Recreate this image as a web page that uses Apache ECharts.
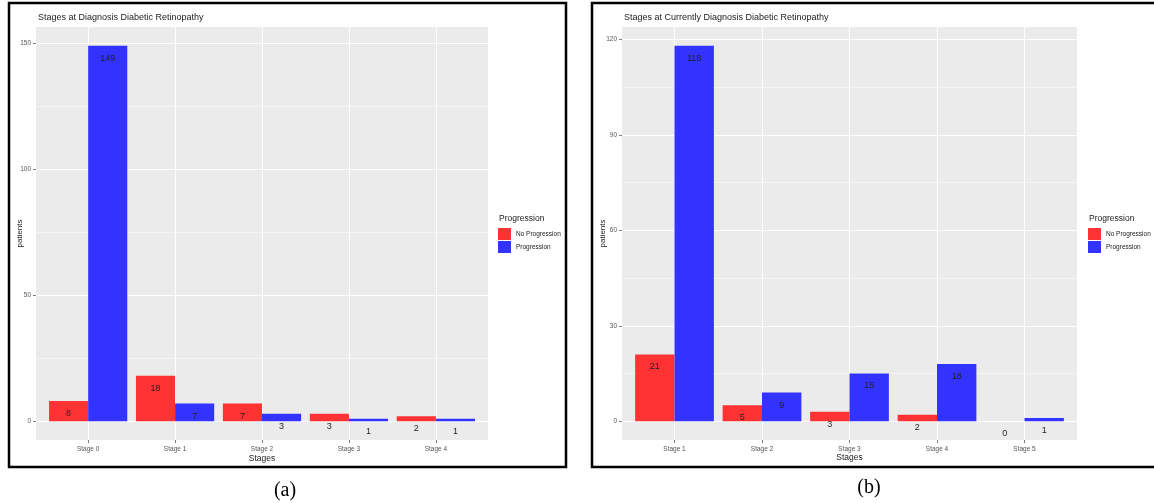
<!DOCTYPE html>
<html>
<head>
<meta charset="utf-8">
<script src="https://cdn.jsdelivr.net/npm/echarts@6/dist/echarts.min.js"></script>
<style>
  html, body { margin: 0; padding: 0; background: #fff; }
  #chart { width: 1154px; height: 503px; }
</style>
</head>
<body>
<div id="chart"></div>
<script>
// Panel (a): stages at diagnosis
const stagesA = ['Stage 0', 'Stage 1', 'Stage 2', 'Stage 3', 'Stage 4'];
const noProgressionA = [8, 18, 7, 3, 2];
const progressionA = [149, 7, 3, 1, 1];
const majorTicksA = [0, 50, 100, 150];
const minorTicksA = [25, 75, 125];

// Panel (b): stages at current diagnosis
const stagesB = ['Stage 1', 'Stage 2', 'Stage 3', 'Stage 4', 'Stage 5'];
const noProgressionB = [21, 5, 3, 2, 0];
const progressionB = [118, 9, 15, 18, 1];
const majorTicksB = [0, 30, 60, 90, 120];
const minorTicksB = [15, 45, 75, 105];

const titleA = 'Stages at Diagnosis Diabetic Retinopathy';
const titleB = 'Stages at Currently Diagnosis Diabetic Retinopathy';
const seriesNames = ['No Progression', 'Progression'];

const FONT = '"Liberation Sans", Arial, sans-serif';
const RED = '#FF3333';
const BLUE = '#3333FF';
const PANEL_BG = '#EBEBEB';

// ggplot-style range: data range padded by 5% on each side
function paddedRange(values) {
  const lo = Math.min(0, ...values), hi = Math.max(...values);
  const pad = (hi - lo) * 0.05;
  return [lo - pad, hi + pad];
}

function buildPanel(p, idx) {
  const n = p.stages.length;
  const indices = p.stages.map((_, i) => i);
  const [yMin, yMax] = paddedRange(p.noProg.concat(p.prog));

  const grid = {
    left: p.left, top: 27, width: p.width, height: 413,
    show: true, backgroundColor: PANEL_BG, borderWidth: 0, containLabel: false
  };

  const xAxis = {
    type: 'value', gridIndex: idx,
    min: -0.6, max: n - 1 + 0.6,
    axisLine: { show: false, onZero: false },
    axisTick: { show: true, length: 3, customValues: indices, lineStyle: { color: '#444', width: 0.7 } },
    splitLine: { show: true, customValues: indices, lineStyle: { color: '#fff', width: 1.1 } },
    axisLabel: {
      customValues: indices, margin: 6, fontSize: 6.5, color: '#555', fontFamily: FONT,
      formatter: v => p.stages[Math.round(v)]
    },
    name: 'Stages', nameLocation: 'middle', nameGap: p.xNameGap, nameMoveOverlap: false,
    nameTextStyle: { fontSize: 8.5, color: '#222', fontFamily: FONT }
  };

  const yAxisMajor = {
    type: 'value', gridIndex: idx, position: 'left',
    min: yMin, max: yMax,
    axisLine: { show: false, onZero: false },
    axisTick: { show: true, length: 3, customValues: p.major, lineStyle: { color: '#444', width: 0.7 } },
    splitLine: { show: true, customValues: p.major, lineStyle: { color: '#fff', width: 1.1 } },
    axisLabel: { customValues: p.major, margin: 5, fontSize: 6.5, color: '#555', fontFamily: FONT },
    name: 'patients', nameLocation: 'middle', nameRotate: 90, nameGap: p.yNameGap, nameMoveOverlap: false,
    nameTextStyle: { fontSize: 8, color: '#222', fontFamily: FONT }
  };

  const yAxisMinor = {
    type: 'value', gridIndex: idx, position: 'left',
    min: yMin, max: yMax,
    axisLine: { show: false, onZero: false },
    axisTick: { show: false, customValues: p.minor },
    axisLabel: { show: false, customValues: p.minor },
    splitLine: { show: true, customValues: p.minor, lineStyle: { color: '#fff', width: 0.5 } }
  };

  const barLabel = {
    show: true, position: 'insideTop', distance: 8,
    fontSize: 9, color: '#1f1f1f', fontFamily: FONT,
    formatter: d => String(d.value[1])
  };

  const mk = (name, values, color) => ({
    type: 'bar', name,
    xAxisIndex: idx, yAxisIndex: idx * 2,
    data: values.map((v, i) => [i, v]),
    itemStyle: { color },
    barGap: '0%', barCategoryGap: '10%',
    label: barLabel,
    emphasis: { disabled: true },
    z: 3
  });

  return {
    grid,
    xAxis,
    yAxes: [yAxisMajor, yAxisMinor],
    series: [mk(seriesNames[0], p.noProg, RED), mk(seriesNames[1], p.prog, BLUE)],
    title: {
      text: p.title, left: p.left + 2, top: 13, padding: 0,
      textStyle: { fontSize: 9, fontWeight: 'normal', color: '#222', fontFamily: FONT }
    },
    legend: {
      left: p.legendX, top: 228, orient: 'vertical', padding: 0,
      itemWidth: 13, itemHeight: 12, itemGap: 1, icon: 'rect',
      data: seriesNames, selectedMode: false,
      textStyle: { fontSize: 6.5, color: '#222', fontFamily: FONT }
    },
    legendTitle: {
      type: 'text', left: p.legendX + 1, top: 214,
      style: { text: 'Progression', font: '8.5px ' + FONT, fill: '#222' }
    }
  };
}

const panels = [
  { stages: stagesA, noProg: noProgressionA, prog: progressionA, major: majorTicksA, minor: minorTicksA,
    title: titleA, left: 36, width: 452, legendX: 498, xNameGap: 14, yNameGap: 12 },
  { stages: stagesB, noProg: noProgressionB, prog: progressionB, major: majorTicksB, minor: minorTicksB,
    title: titleB, left: 622, width: 455, legendX: 1088, xNameGap: 13, yNameGap: 15 }
].map(buildPanel);

const option = {
  animation: false,
  backgroundColor: '#fff',
  textStyle: { fontFamily: FONT },
  title: panels.map(p => p.title),
  legend: panels.map(p => p.legend),
  grid: panels.map(p => p.grid),
  xAxis: panels.map(p => p.xAxis),
  yAxis: panels.flatMap(p => p.yAxes),
  series: panels.flatMap(p => p.series),
  graphic: [
    // frames around the two figures
    { type: 'rect', silent: true, shape: { x: 9, y: 3, width: 557, height: 464 },
      style: { fill: 'none', stroke: '#000', lineWidth: 2.5 } },
    { type: 'rect', silent: true, shape: { x: 592, y: 3, width: 600, height: 464 },
      style: { fill: 'none', stroke: '#000', lineWidth: 2.5 } },
    panels[0].legendTitle,
    panels[1].legendTitle,
    // figure captions
    { type: 'text', x: 285, y: 491, silent: true,
      style: { text: '(a)', font: '20px "Liberation Serif", "Times New Roman", serif', fill: '#000',
               align: 'center', verticalAlign: 'middle' } },
    { type: 'text', x: 869, y: 488, silent: true,
      style: { text: '(b)', font: '20px "Liberation Serif", "Times New Roman", serif', fill: '#000',
               align: 'center', verticalAlign: 'middle' } }
  ]
};

const chart = echarts.init(document.getElementById('chart'), null, { renderer: 'canvas' });
chart.setOption(option);
</script>
</body>
</html>
